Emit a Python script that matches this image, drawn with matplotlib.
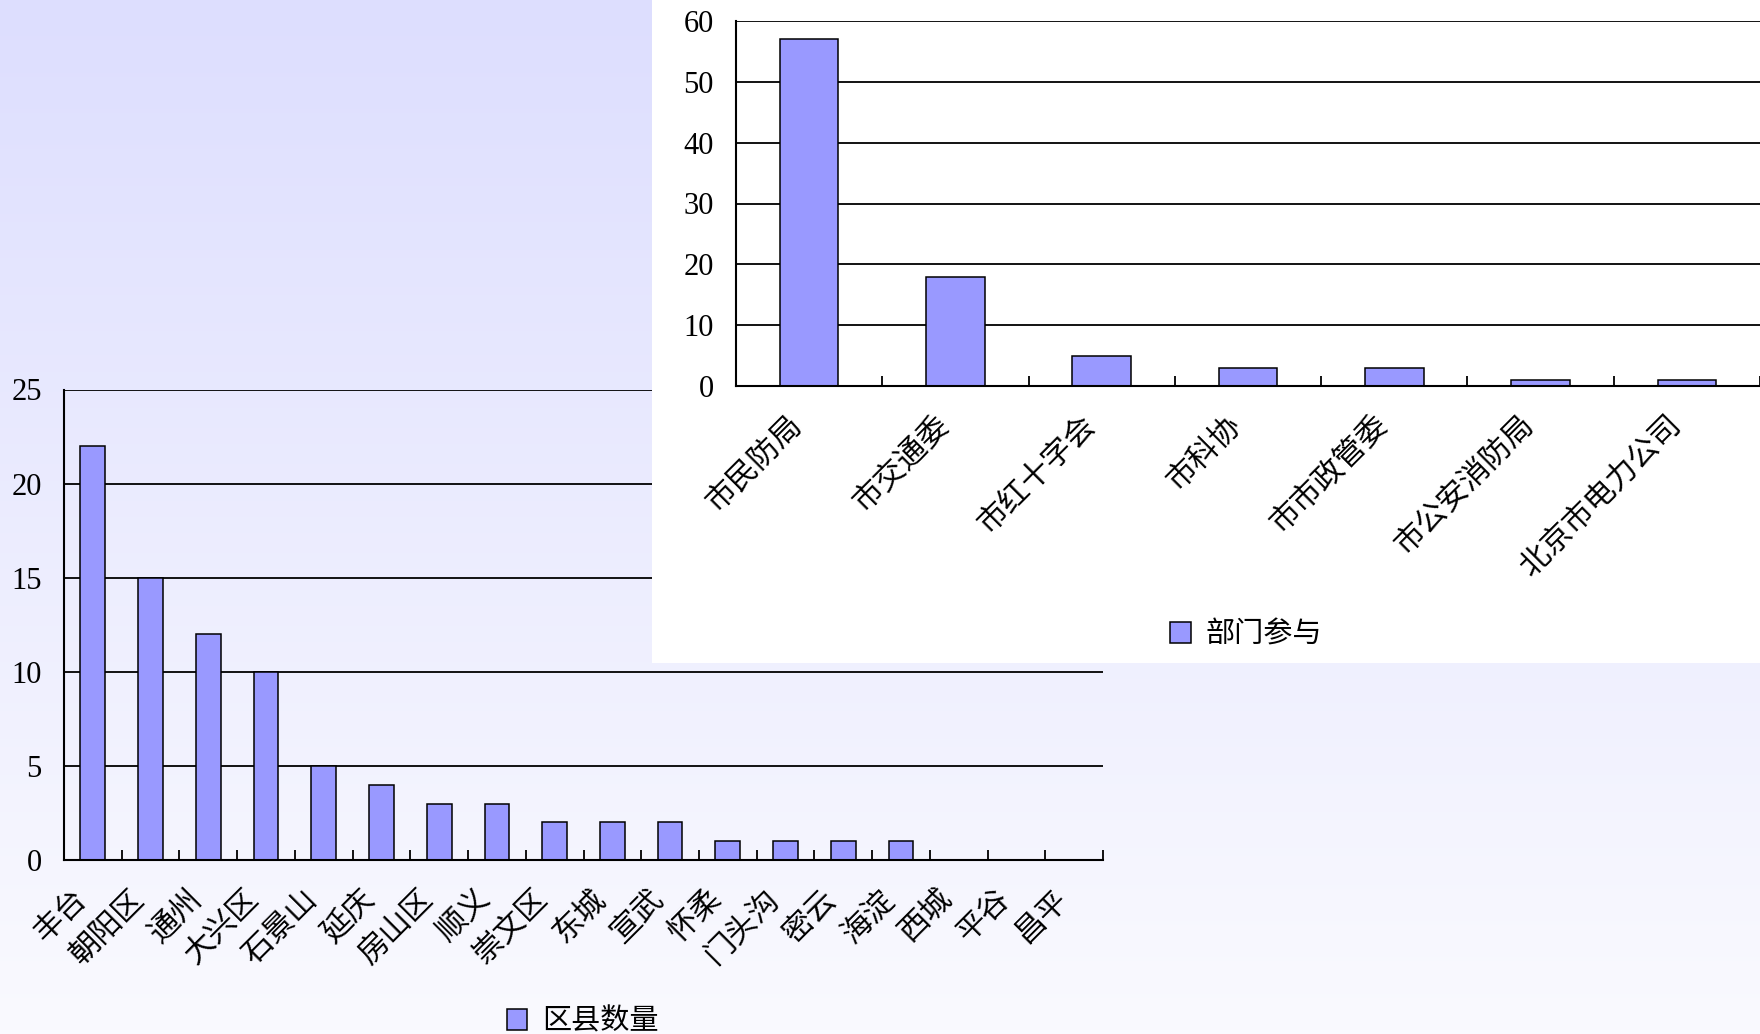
import numpy as np
import matplotlib
matplotlib.use("Agg")
import matplotlib.pyplot as plt

plt.rcParams['font.family'] = ['Noto Sans CJK SC', 'DejaVu Sans']

# --- data ---
districts = ["丰台", "朝阳区", "通州", "大兴区", "石景山", "延庆", "房山区", "顺义",
             "崇文区", "东城", "宣武", "怀柔", "门头沟", "密云", "海淀", "西城", "平谷", "昌平"]
district_counts = [22, 15, 12, 10, 5, 4, 3, 3, 2, 2, 2, 1, 1, 1, 1, 0, 0, 0]
district_ticks = [0, 5, 10, 15, 20, 25]

depts = ["市民防局", "市交通委", "市红十字会", "市科协", "市市政管委", "市公安消防局", "北京市电力公司"]
dept_counts = [57, 18, 5, 3, 3, 1, 1]
dept_ticks = [0, 10, 20, 30, 40, 50, 60]

bar_color = "#9999ff"
num_font = "Liberation Serif"
label_size = 22

W, H = 1760, 1034
fig = plt.figure(figsize=(W / 100, H / 100), dpi=100)

# background gradient
bg = fig.add_axes([0, 0, 1, 1], zorder=-10)
top_c = np.array([221, 222, 254]) / 255
bot_c = np.array([250, 250, 255]) / 255
t = np.linspace(0, 1, 256)[:, None]
grad = top_c[None, :] * (1 - t) + bot_c[None, :] * t
bg.imshow(grad[:, None, :], aspect="auto", extent=[0, 1, 0, 1])
bg.axis("off")


def style_axes(ax, cats, vals, ticks, width, legend_label, legend_pos):
    x = np.arange(len(cats))
    ax.bar(x, vals, width=width, color=bar_color, edgecolor="black", linewidth=1.1, zorder=3,
           label=legend_label)
    ax.set_xlim(-0.5, len(cats) - 0.5)
    ax.set_ylim(ticks[0], ticks[-1])
    ax.set_yticks(ticks)
    ax.set_yticklabels([str(v) for v in ticks], fontfamily=num_font, fontsize=22)
    ax.tick_params(axis="y", length=0, pad=16)
    ax.yaxis.grid(True, color="black", linewidth=1.3, zorder=1)
    ax.set_axisbelow(True)
    # category labels + separator ticks
    ax.set_xticks(x)
    ax.set_xticklabels(cats, rotation=45, ha="right", va="top", fontsize=label_size)
    ax.tick_params(axis="x", which="major", length=0, pad=17)
    ax.set_xticks(np.arange(len(cats) + 1) - 0.5, minor=True)
    ax.tick_params(axis="x", which="minor", direction="in", length=7, width=1.3)
    for s in ["top", "right"]:
        ax.spines[s].set_visible(False)
    for s in ["left", "bottom"]:
        ax.spines[s].set_linewidth(1.5)
        ax.spines[s].set_zorder(4)
    ax.legend(loc="center", bbox_to_anchor=legend_pos, bbox_transform=fig.transFigure,
              frameon=False, fontsize=21, handlelength=0.7, handleheight=0.7,
              handletextpad=0.5)


# bottom-left chart (districts)
ax1 = fig.add_axes([64 / W, 1 - 860 / H, (1103 - 64) / W, (860 - 389.5) / H], zorder=0)
ax1.patch.set_alpha(0)
style_axes(ax1, districts, district_counts, district_ticks, 0.43, "区县数量", (0.331, 0.012))

# white panel behind the department chart
panel = fig.add_axes([652 / W, 1 - 663 / H, 1 - 652 / W, 663 / H], zorder=1)
panel.set_facecolor("white")
panel.set_xticks([])
panel.set_yticks([])
for s in panel.spines.values():
    s.set_visible(False)

# top-right chart (departments)
ax2 = fig.add_axes([736 / W, 1 - 386 / H, 1 - 736 / W, (386 - 21) / H], zorder=2)
ax2.set_facecolor("white")
style_axes(ax2, depts, dept_counts, dept_ticks, 0.4, "部门参与", (0.708, 0.386))

fig.savefig("out.png", dpi=100)
